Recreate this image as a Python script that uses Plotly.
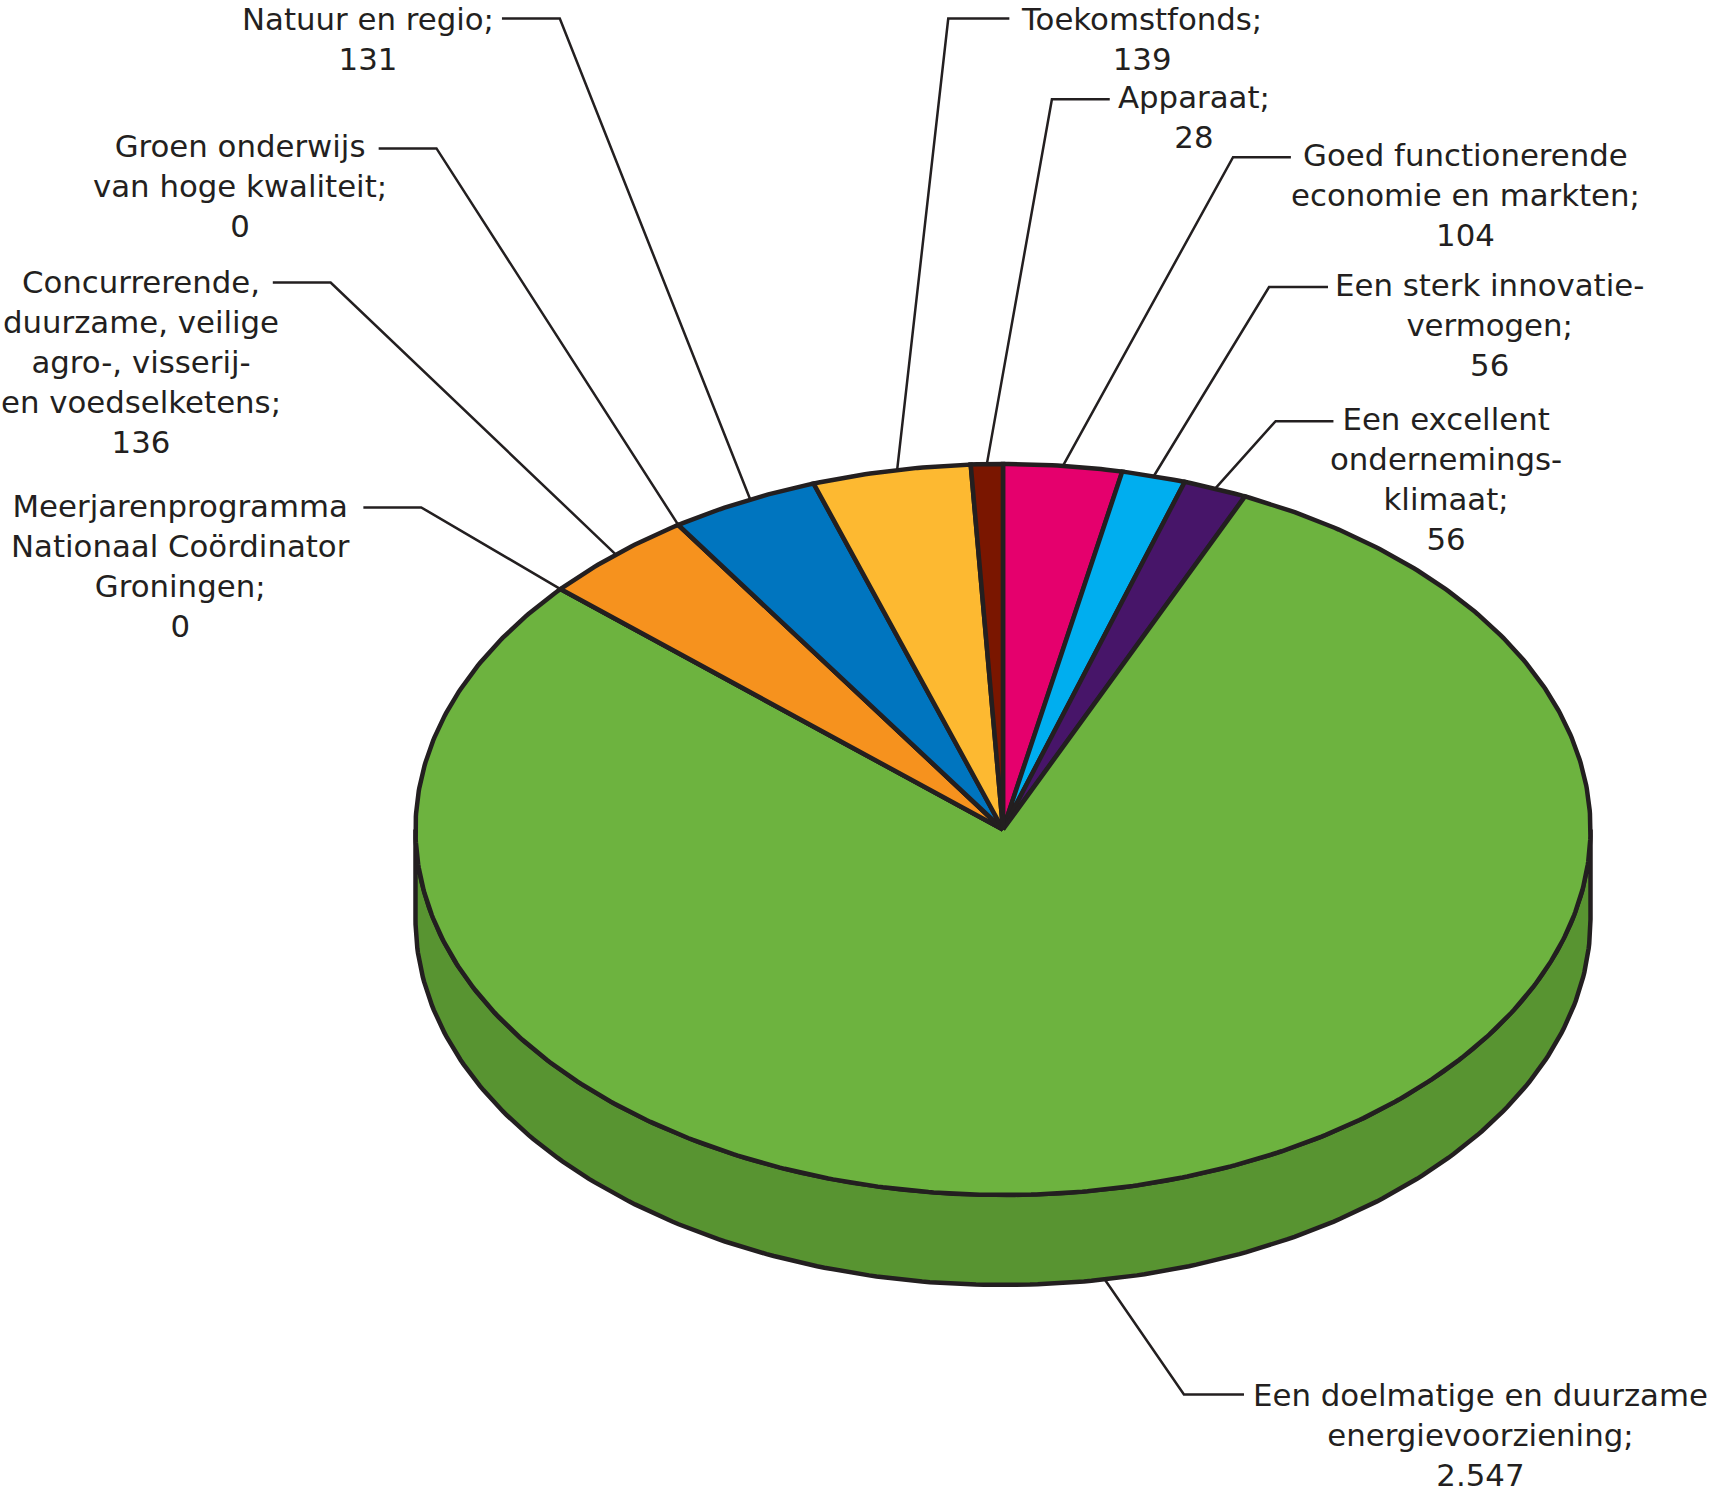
import numpy as np
import plotly.graph_objects as go

# ---- data (clockwise from 12 o'clock) ----
categories = [
    "Goed functionerende<br>economie en markten;",
    "Een sterk innovatie-<br>vermogen;",
    "Een excellent<br>ondernemings-<br>klimaat;",
    "Een doelmatige en duurzame<br>energievoorziening;",
    "Meerjarenprogramma<br>Nationaal Coördinator<br>Groningen;",
    "Concurrerende,<br>duurzame, veilige<br>agro-, visserij-<br>en voedselketens;",
    "Groen onderwijs<br>van hoge kwaliteit;",
    "Natuur en regio;",
    "Toekomstfonds;",
    "Apparaat;",
]
values = [104, 56, 56, 2547, 0, 136, 0, 131, 139, 28]
value_labels = ["104", "56", "56", "2.547", "0", "136", "0", "131", "139", "28"]
colors = ["#E5006D", "#00AEEF", "#471569", "#6DB33F", "#6DB33F", "#F6921E",
          "#0075BF", "#0075BF", "#FDB931", "#7A1600"]

# ---- layout (pixels of the 1711x1494 page) ----
W, H = 1711, 1494
CX, CY, RX, RY, DEPTH = 1003, 829.5, 587.5, 365.5, 90
INK = "#231F20"
SIDE = "#589431"
FONT = "DejaVu Sans"
SIZE = 30.8
LH = 40
S = 1711 / 1568
label_x = [1343, 1365, 1325, 1357, 165, 129, 220, 337, 1046, 1094]
label_y = [142, 261, 384, 1278, 464, 258, 134, 17, 17, 89]
elbow_x = [1130, 1163, 1169, 1085, 386, 303, 400, 513, 869, 964]
elbow_y = [144, 263, 386, 1278, 465, 259, 136, 17, 17, 91]
stub_x = [1183, 1217, 1222, 1140, 333, 250, 347, 460, 925, 1017]
leader_shift = [0, 0, 0, 2.3, 0, 0, 0, 0.7, 0.6, 0]


def rim(deg, dy=0.0):
    t = np.radians(deg)
    return CX + RX * np.sin(t), CY - RY * np.cos(t) + dy


total = sum(values)
edges = np.cumsum([0] + values) / total * 360
fig = go.Figure()

# side wall
t = np.linspace(90, 270, 240)
xb, yb = rim(t, DEPTH)
xt, yt = rim(t[::-1])
fig.add_trace(go.Scatter(x=np.r_[xb, xt, xb[0]], y=np.r_[yb, yt, yb[0]], mode="lines", fill="toself",
                         fillcolor=SIDE, line=dict(color=INK, width=4.5), hoverinfo="skip"))

# top-face slices
for i, v in enumerate(values):
    t = np.linspace(edges[i], edges[i + 1], max(2, int(v / total * 720)))
    x, y = rim(t)
    fig.add_trace(go.Scatter(x=np.r_[CX, x, CX], y=np.r_[CY, y, CY], mode="lines", fill="toself",
                             fillcolor=colors[i], line=dict(color=INK, width=4.5), hoverinfo="skip"))

# leader lines and labels
for i, v in enumerate(values):
    mid = (edges[i] + edges[i + 1]) / 2 + leader_shift[i]
    ex, ey = rim(mid, DEPTH if 90 < mid < 270 else 0)
    fig.add_trace(go.Scatter(x=[stub_x[i] * S, elbow_x[i] * S, ex], y=[elbow_y[i] * S, elbow_y[i] * S, ey],
                             mode="lines", line=dict(color=INK, width=2.5), hoverinfo="skip"))
    text = categories[i] + "<br>" + value_labels[i]
    n = text.count("<br>")
    fig.add_annotation(x=label_x[i] * S, y=label_y[i] * S + n * LH / 2, text=text, showarrow=False,
                       xanchor="center", yanchor="middle", align="center",
                       font=dict(family=FONT, size=SIZE, color=INK))

fig.update_xaxes(range=[0, W], visible=False, fixedrange=True)
fig.update_yaxes(range=[H, 0], visible=False, fixedrange=True)
fig.update_layout(width=W, height=H, margin=dict(l=0, r=0, t=0, b=0), showlegend=False,
                  paper_bgcolor="white", plot_bgcolor="white")
fig.write_html("out.html", config=dict(displayModeBar=False),
               post_script="document.body.style.margin='0';")
